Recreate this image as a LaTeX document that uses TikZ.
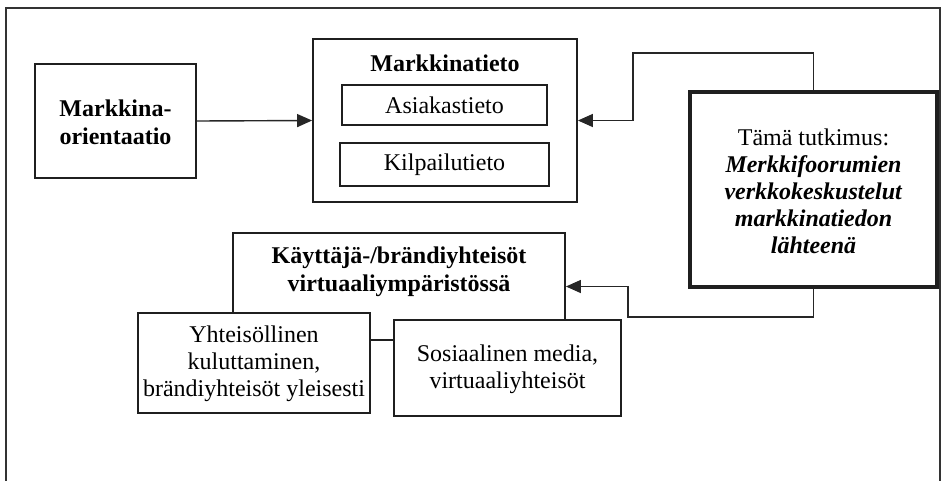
\documentclass[tikz,border=0pt]{standalone}
\usepackage{fontspec}
\setmainfont{Liberation Serif}
\usetikzlibrary{arrows.meta}

\tikzset{
  box/.style={draw=black!88, line width=1.8pt, fill=white, inner sep=0pt, rectangle},
  thickbox/.style={draw=black!88, line width=4.8pt, fill=white, inner sep=0pt, rectangle},
  txt/.style={align=center, inner sep=0pt, font=\fontsize{24}{27}\selectfont},
  btxt/.style={align=center, inner sep=0pt, font=\fontsize{24}{28}\selectfont\bfseries},
  link/.style={draw=black!85, line width=1.4pt},
  arr/.style={link, -{Triangle[length=15pt,width=13pt]}}
}

\begin{document}
\begin{tikzpicture}[x=1pt, y=-1pt]
\useasboundingbox (0,0) rectangle (947,480);

% frame around the figure (open at the bottom)
\draw[draw=black!80, line width=1.3pt] (6,490) -- (6,8) -- (940,8) -- (940,490);

% market orientation
\node[box, minimum width=161pt, minimum height=114pt] (mo) at (115.5,121) {};
\node[btxt] (motext) at (115.5,122) {Markkina-\\orientaatio};

% market information with its two parts
\node[box, minimum width=264pt, minimum height=163pt] (mt) at (445,120.5) {};
\node[btxt] (mttitle) at (445,63) {Markkinatieto};
\node[box, minimum width=205pt, minimum height=40pt] (asiakas) at (444.5,105) {};
\node[txt] (asiakastxt) at (444.5,105) {Asiakastieto};
\node[box, minimum width=209pt, minimum height=43pt] (kilpailu) at (444.5,164.5) {};
\node[txt] (kilpailutxt) at (444.5,164.5) {Kilpailutieto};

% this study
\node[thickbox, minimum width=247pt, minimum height=195pt] (tama) at (813.5,189.5) {};
\node[txt] (tamatxt) at (813.5,191) {Tämä tutkimus:\\
  \textbf{\itshape Merkkifoorumien}\\
  \textbf{\itshape verkkokeskustelut}\\
  \textbf{\itshape markkinatiedon}\\
  \textbf{\itshape lähteenä}};

% user and brand communities
\node[box, minimum width=332pt, minimum height=107pt] (kb) at (399,286.5) {};
\node[btxt] (kbtxt) at (399,272) {Käyttäjä-/brändiyhteisöt\\virtuaaliympäristössä};

\node[box, minimum width=232pt, minimum height=100pt] (yht) at (254,363) {};
\node[txt] (yhttxt) at (254,364) {Yhteisöllinen\\kuluttaminen,\\brändiyhteisöt yleisesti};

\node[box, minimum width=227pt, minimum height=96pt] (sos) at (507.5,368) {};
\node[txt] (sostxt) at (507.5,369) {Sosiaalinen media,\\virtuaaliyhteisöt};

% connectors
\coordinate (up) at (633,53);
\coordinate (down) at (628,317);
\draw[arr] (mo.east) -- (mt.west);
\draw[arr] (tama.north) |- (up) |- (mt.east);
\draw[arr] (tama.south) |- (down) |- (kb.east);

\end{tikzpicture}
\end{document}
